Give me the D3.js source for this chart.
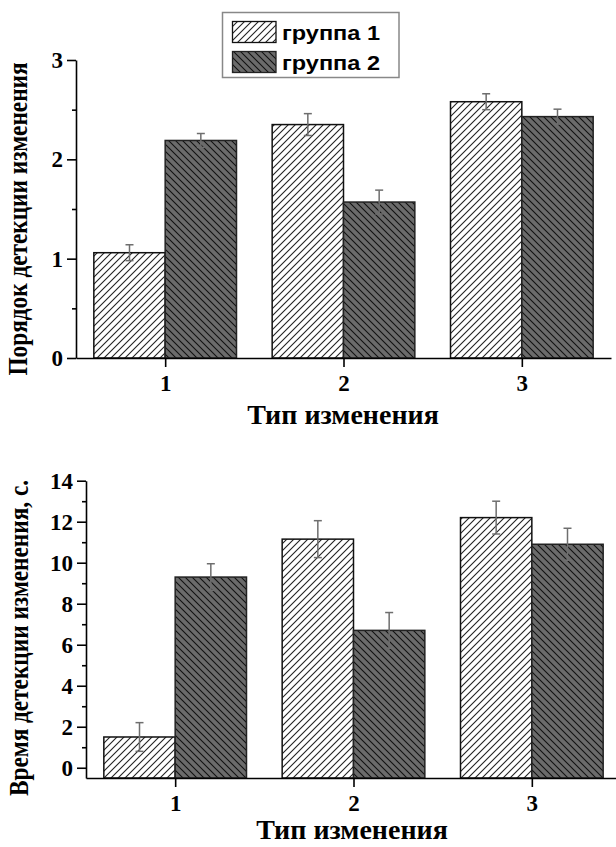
<!DOCTYPE html>
<html><head><meta charset="utf-8">
<script src="https://cdn.jsdelivr.net/npm/d3@7"></script>
<style>body{margin:0;background:#fff}svg{display:block}</style>
</head><body>
<script>
const categories = [1, 2, 3];
const seriesNames = ["группа 1", "группа 2"];
// Top chart: order of change detection
const topG1 = [1.06, 2.35, 2.58];
const topG1Err = [0.08, 0.11, 0.08];
const topG2 = [2.19, 1.57, 2.43];
const topG2Err = [0.07, 0.12, 0.075];
const topTicks = [0, 1, 2, 3];
const topMinor = [0.5, 1.5, 2.5];
// Bottom chart: detection time, s
const botG1 = [1.5, 11.15, 12.2];
const botG1Err = [0.7, 0.9, 0.8];
const botG2 = [9.3, 6.7, 10.9];
const botG2Err = [0.65, 0.87, 0.78];
const botTicks = [0, 2, 4, 6, 8, 10, 12, 14];
const botMinor = [1, 3, 5, 7, 9, 11, 13];

const W = 616, H = 847;
const svg = d3.select("body").append("svg").attr("width", W).attr("height", H);
const defs = svg.append("defs");
function hatch(id, bg, dir, col) {
  const s = 7;
  const p = defs.append("pattern").attr("id", id).attr("patternUnits", "userSpaceOnUse")
    .attr("width", s).attr("height", s);
  p.append("rect").attr("width", s).attr("height", s).attr("fill", bg);
  const d = dir === "/" ? `M0,${s} L${s},0 M-1,1 L1,-1 M${s-1},${s+1} L${s+1},${s-1}`
                        : `M0,0 L${s},${s} M-1,${s-1} L1,${s+1} M${s-1},-1 L${s+1},1`;
  p.append("path").attr("d", d).attr("stroke", col).attr("stroke-width", 1.1);
}
hatch("h1", "#fff", "/", "#222");
hatch("h2", "#6b6b6b", "\\", "#111");
const fills = ["url(#h1)", "url(#h2)"];
const strokes = ["#111", "#222"];
const serif = "'Liberation Serif', 'Times New Roman', serif";

function chart(cfg) {
  const g = svg.append("g");
  const x = d3.scaleLinear().domain([0.5, 3.5]).range(cfg.xr);
  const y = d3.scaleLinear().domain(cfg.yd).range(cfg.yr);
  const bw = x(1.4) - x(1);
  const series = [[cfg.g1, cfg.e1], [cfg.g2, cfg.e2]];
  series.forEach(([vals, errs], si) => {
    g.selectAll(null).data(categories).enter().append("rect")
      .attr("x", (c) => si === 0 ? x(c) - bw : x(c))
      .attr("y", (c, i) => y(vals[i]))
      .attr("width", bw)
      .attr("height", (c, i) => y(cfg.base) - y(vals[i]))
      .attr("fill", fills[si]).attr("stroke", strokes[si]).attr("stroke-width", 1.5);
  });
  series.forEach(([vals, errs], si) => {
    categories.forEach((c, i) => {
      const cx = si === 0 ? x(c) - bw / 2 : x(c) + bw / 2;
      const t = y(vals[i] + errs[i]), b = y(vals[i] - errs[i]);
      const eg = g.append("g").attr("stroke", "#6e6e6e").attr("stroke-width", 1.5);
      eg.append("line").attr("x1", cx).attr("x2", cx).attr("y1", t).attr("y2", b);
      eg.append("line").attr("x1", cx - 4).attr("x2", cx + 4).attr("y1", t).attr("y2", t);
      eg.append("line").attr("x1", cx - 4).attr("x2", cx + 4).attr("y1", b).attr("y2", b);
    });
  });
  // y axis
  g.append("g").attr("transform", `translate(${cfg.xr[0]},0)`)
    .call(d3.axisLeft(y).tickValues(cfg.ticks).tickSize(9).tickSizeOuter(0).tickPadding(4).tickFormat(d3.format("d")));
  g.append("g").attr("transform", `translate(${cfg.xr[0]},0)`)
    .call(d3.axisLeft(y).tickValues(cfg.minor).tickSize(4).tickSizeOuter(0).tickFormat(""))
    .call(a => a.select(".domain").remove());
  // x axis
  g.append("g").attr("transform", `translate(0,${cfg.yr[0]})`)
    .call(d3.axisBottom(x).tickValues(categories).tickSize(9).tickSizeOuter(0).tickPadding(8).tickFormat(d3.format("d")));
  g.selectAll(".domain, .tick line").attr("stroke", "#000").attr("stroke-width", 1.6);
  g.selectAll(".tick text").attr("font-family", serif).attr("font-weight", "bold")
    .attr("font-size", 23).attr("fill", "#000");
  g.append("text").attr("x", cfg.xtx).attr("y", cfg.xty).attr("text-anchor", "middle")
    .attr("font-family", serif).attr("font-weight", "bold").attr("font-size", 28).text("Тип изменения");
  g.append("text").attr("transform", `translate(${cfg.ytx},${cfg.yty}) rotate(-90) scale(1,1.15)`).attr("text-anchor", "middle")
    .attr("font-family", serif).attr("font-weight", "bold").attr("font-size", 23.3).text(cfg.ytitle);
}

chart({xr: [76, 611], yd: [0, 3], yr: [358, 60], base: 0, g1: topG1, e1: topG1Err, g2: topG2, e2: topG2Err,
  ticks: topTicks, minor: topMinor, xtx: 343, xty: 424, ytx: 27, yty: 219,
  ytitle: "Порядок детекции изменения"});
chart({xr: [86, 621], yd: [-0.5, 14], yr: [778, 480.7], base: -0.5, g1: botG1, e1: botG1Err, g2: botG2, e2: botG2Err,
  ticks: botTicks, minor: botMinor, xtx: 352, xty: 839, ytx: 28, yty: 638,
  ytitle: "Время детекции изменения, с."});

// legend
const lg = svg.append("g");
lg.append("rect").attr("x", 222.5).attr("y", 12.5).attr("width", 176.5).attr("height", 65)
  .attr("fill", "#fff").attr("stroke", "#888").attr("stroke-width", 1.5);
seriesNames.forEach((n, i) => {
  const yy = 21.5 + i * 30;
  lg.append("rect").attr("x", 232.5).attr("y", yy).attr("width", 43.5).attr("height", 21)
    .attr("fill", fills[i]).attr("stroke", strokes[i]).attr("stroke-width", 1.3);
  lg.append("text").attr("x", 282).attr("y", yy + 18).attr("font-family", "'Liberation Sans', Arial, sans-serif")
    .attr("font-weight", "bold").attr("font-size", 21)
    .attr("textLength", 98).attr("lengthAdjust", "spacingAndGlyphs").text(n);
});
</script>
</body></html>
